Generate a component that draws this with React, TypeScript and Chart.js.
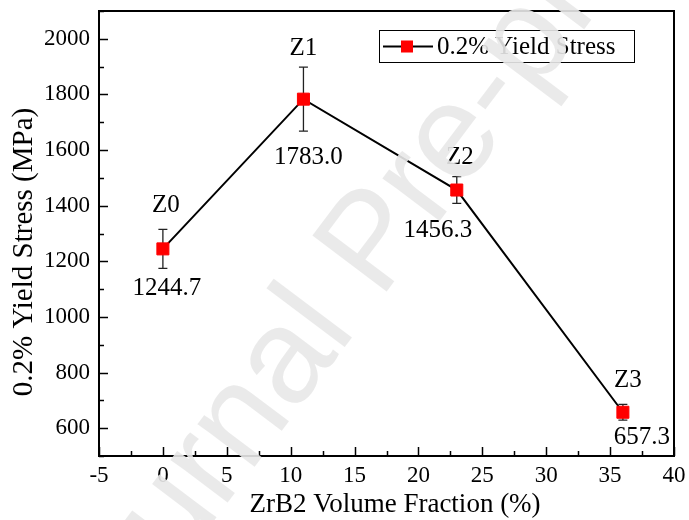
import React, { useEffect, useRef } from 'react';
import { Chart, registerables } from 'chart.js';

Chart.register(...registerables);

// ---- data ----
const sampleNames = ['Z0', 'Z1', 'Z2', 'Z3'];
const volumeFraction = [0, 11, 23, 36];
const yieldStress = [1244.7, 1783.0, 1456.3, 657.3];
const yieldError = [70, 115, 48, 28];
const xTickValues = [-5, 0, 5, 10, 15, 20, 25, 30, 35, 40];
const yTickValues = [600, 800, 1000, 1200, 1400, 1600, 1800, 2000];
const seriesLabel = '0.2% Yield Stress';
const xTitle = 'ZrB2 Volume Fraction (%)';
const yTitle = '0.2% Yield Stress (MPa)';
const watermarkText = 'Journal Pre-proof';

const SERIF = "'Liberation Serif', 'Times New Roman', serif";

// label offsets (pixels) for name (above) and value (below)
const nameOffsets = [[3, -43], [0, -51], [3, -33], [5, -32]];
const valueOffsets = [[4, 40], [5, 58], [-19, 40], [19, 25]];

const decorPlugin = {
  id: 'decor',
  beforeDatasetsDraw(chart: any) {
    const { ctx, chartArea: a, scales } = chart;
    const xs = scales.x, ys = scales.y;
    ctx.save();
    // inward ticks on bottom and left
    ctx.strokeStyle = '#000';
    ctx.lineWidth = 1.5;
    for (let v = -5; v <= 40; v += 2.5) {
      const px = Math.round(xs.getPixelForValue(v)) + 0.5;
      const major = xTickValues.includes(v);
      const len = major ? 9 : 5;
      ctx.beginPath();
      ctx.moveTo(px, a.bottom);
      ctx.lineTo(px, a.bottom - len);
      ctx.stroke();
    }
    for (let v = 500; v <= 2100; v += 100) {
      const py = Math.round(ys.getPixelForValue(v)) + 0.5;
      const major = v % 200 === 0;
      const len = major ? 9 : 5;
      ctx.beginPath();
      ctx.moveTo(a.left, py);
      ctx.lineTo(a.left + len, py);
      ctx.stroke();
    }
    // frame
    ctx.lineWidth = 2;
    ctx.strokeRect(a.left, a.top, a.right - a.left, a.bottom - a.top);
    // error bars
    ctx.strokeStyle = '#222';
    ctx.lineWidth = 1.3;
    for (let i = 0; i < volumeFraction.length; i++) {
      const px = xs.getPixelForValue(volumeFraction[i]);
      const top = ys.getPixelForValue(yieldStress[i] + yieldError[i]);
      const bot = ys.getPixelForValue(yieldStress[i] - yieldError[i]);
      ctx.beginPath();
      ctx.moveTo(px, top);
      ctx.lineTo(px, bot);
      ctx.moveTo(px - 4.5, top);
      ctx.lineTo(px + 4.5, top);
      ctx.moveTo(px - 4.5, bot);
      ctx.lineTo(px + 4.5, bot);
      ctx.stroke();
    }
    ctx.restore();
  },
  afterDatasetsDraw(chart: any) {
    const { ctx, scales } = chart;
    const xs = scales.x, ys = scales.y;
    ctx.save();
    ctx.fillStyle = '#000';
    ctx.font = `25px ${SERIF}`;
    ctx.textAlign = 'center';
    ctx.textBaseline = 'middle';
    for (let i = 0; i < volumeFraction.length; i++) {
      const px = xs.getPixelForValue(volumeFraction[i]);
      const py = ys.getPixelForValue(yieldStress[i]);
      ctx.fillText(sampleNames[i], px + nameOffsets[i][0], py + nameOffsets[i][1]);
      ctx.fillText(yieldStress[i].toFixed(1), px + valueOffsets[i][0], py + valueOffsets[i][1]);
    }
    // legend
    ctx.fillStyle = '#fff';
    ctx.fillRect(379.5, 30.5, 255, 32);
    ctx.strokeStyle = '#000';
    ctx.lineWidth = 1;
    ctx.strokeRect(379.5, 30.5, 255, 32);
    ctx.lineWidth = 2;
    ctx.beginPath();
    ctx.moveTo(383, 46.5);
    ctx.lineTo(433, 46.5);
    ctx.stroke();
    ctx.fillStyle = '#ff0000';
    ctx.fillRect(401, 40.5, 12, 12);
    ctx.fillStyle = '#000';
    ctx.textAlign = 'left';
    ctx.fillText(seriesLabel, 437, 47);
    // axis titles
    ctx.font = `27px ${SERIF}`;
    ctx.textAlign = 'center';
    ctx.fillText(xTitle, 395, 505);
    ctx.save();
    ctx.translate(24, 252);
    ctx.rotate(-Math.PI / 2);
    ctx.font = `29px ${SERIF}`;
    ctx.fillText(yTitle, 0, 0);
    ctx.restore();
    ctx.restore();
  },
  afterDraw(chart: any) {
    const { ctx } = chart;
    ctx.save();
    ctx.translate(375, 245);
    ctx.rotate((-53 * Math.PI) / 180);
    ctx.font = `135px 'Liberation Sans', Arial, sans-serif`;
    ctx.fillStyle = 'rgba(232,232,232,0.9)';
    ctx.textAlign = 'center';
    ctx.textBaseline = 'middle';
    ctx.fillText(watermarkText, 0, 0);
    ctx.restore();
  },
};

export default function App() {
  const ref = useRef<HTMLCanvasElement>(null);
  useEffect(() => {
    if (!ref.current) return;
    const chart = new Chart(ref.current, {
      type: 'line',
      data: {
        datasets: [
          {
            label: seriesLabel,
            data: volumeFraction.map((x, i) => ({ x, y: yieldStress[i] })),
            borderColor: '#000',
            borderWidth: 2,
            pointStyle: 'rect',
            pointRadius: 8.5,
            pointBackgroundColor: '#ff0000',
            pointBorderColor: '#ff0000',
            pointBorderWidth: 1,
            tension: 0,
            clip: false as any,
          },
        ],
      },
      options: {
        responsive: false,
        devicePixelRatio: 1,
        animation: false,
        layout: { padding: { left: 0, right: 15, top: 11, bottom: 0 } },
        plugins: { legend: { display: false }, tooltip: { enabled: false } },
        scales: {
          x: {
            type: 'linear',
            min: -5,
            max: 40,
            afterFit: (s: any) => { s.height = 64; s.paddingLeft = 0; s.paddingRight = 0; },
            grid: { display: false, drawTicks: false },
            border: { display: false },
            afterBuildTicks: (s: any) => { s.ticks = xTickValues.map((v) => ({ value: v })); },
            ticks: {
              autoSkip: false,
              maxRotation: 0,
              padding: 6,
              color: '#000',
              font: { family: SERIF, size: 23 },
              callback: (v: any) => String(v),
            },
          },
          y: {
            type: 'linear',
            min: 500,
            max: 2100,
            afterFit: (s: any) => { s.width = 99; s.paddingTop = 0; s.paddingBottom = 0; },
            grid: { display: false, drawTicks: false },
            border: { display: false },
            afterBuildTicks: (s: any) => { s.ticks = yTickValues.map((v) => ({ value: v })); },
            ticks: {
              autoSkip: false,
              padding: 9,
              color: '#000',
              font: { family: SERIF, size: 23 },
              callback: (v: any) => String(v),
            },
          },
        },
      },
      plugins: [decorPlugin],
    });
    return () => chart.destroy();
  }, []);
  return (
    <div style={{ position: 'absolute', left: 0, top: 0, width: 689, height: 520, background: '#fff' }}>
      <canvas ref={ref} width={689} height={520} style={{ display: 'block' }} />
    </div>
  );
}
